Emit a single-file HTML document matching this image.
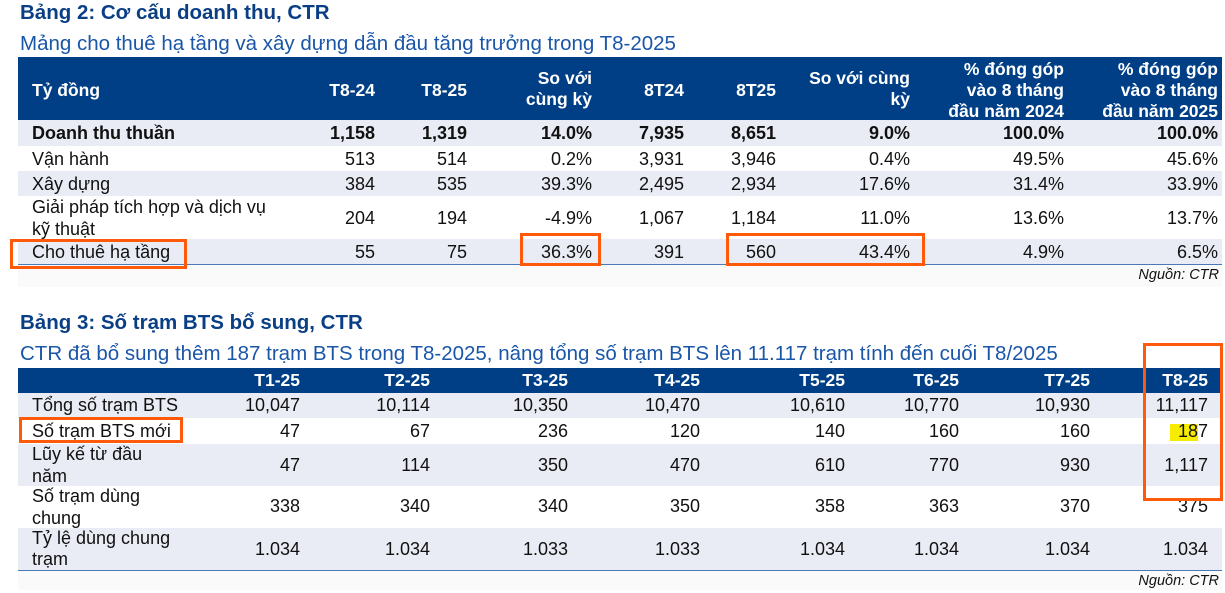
<!DOCTYPE html>
<html><head><meta charset="utf-8"><style>
body{margin:0;width:1225px;height:593px;background:#fff;font-family:"Liberation Sans",Arial,sans-serif;position:relative;overflow:hidden}
.a{position:absolute;white-space:nowrap}
.t{font-weight:bold;color:#0a3f86;font-size:20.5px}
.s{color:#1a56a8;font-size:20.5px}
.bg{position:absolute;left:18px;width:1204px}
.hd{background:#003f86}
.bd{background:#e9ecf4}
.h{color:#fff;font-weight:bold;font-size:17.5px;text-align:right;line-height:21px}
.c{font-size:18px;color:#111;text-align:right}
.l{font-size:18px;color:#111}
.ob{position:absolute;border:3.5px solid #ff5a0a;box-sizing:border-box}
.src{font-style:italic;font-size:14.5px;color:#111}
</style></head><body>
<div class="bg" style="top:57px;height:230px;background:#fafafa"></div>
<div class="bg" style="top:368px;height:222px;background:#fafafa"></div>
<div class="a t" style="left:20px;top:1px">Bảng 2: Cơ cấu doanh thu, CTR</div>
<div class="a s" style="left:20px;top:32px">Mảng cho thuê hạ tầng và xây dựng dẫn đầu tăng trưởng trong T8-2025</div>
<div class="bg hd" style="top:57px;height:63px"></div>
<div class="bg bd" style="top:120px;height:26px"></div>
<div class="bg" style="top:146px;height:25px;background:#fff"></div>
<div class="bg bd" style="top:171px;height:25px"></div>
<div class="bg" style="top:196px;height:43px;background:#fff"></div>
<div class="bg bd" style="top:239px;height:25px"></div>
<div class="bg" style="top:264px;height:1px;background:#4a78b8"></div>
<div class="a h" style="left:32px;top:80px;text-align:left">Tỷ đồng</div>
<div class="a h" style="right:850px;top:80px">T8-24</div>
<div class="a h" style="right:758px;top:80px">T8-25</div>
<div class="a h" style="right:633px;top:68px">So với<br>cùng kỳ</div>
<div class="a h" style="right:541px;top:80px">8T24</div>
<div class="a h" style="right:449px;top:80px">8T25</div>
<div class="a h" style="right:315px;top:68px">So với cùng<br>kỳ</div>
<div class="a h" style="right:161px;top:59px">% đóng góp<br>vào 8 tháng<br>đầu năm 2024</div>
<div class="a h" style="right:7px;top:59px">% đóng góp<br>vào 8 tháng<br>đầu năm 2025</div>
<div class="a l" style="left:32px;top:123px;font-weight:bold">Doanh thu thuần</div>
<div class="a c" style="right:850px;top:123px;font-weight:bold">1,158</div>
<div class="a c" style="right:758px;top:123px;font-weight:bold">1,319</div>
<div class="a c" style="right:633px;top:123px;font-weight:bold">14.0%</div>
<div class="a c" style="right:541px;top:123px;font-weight:bold">7,935</div>
<div class="a c" style="right:449px;top:123px;font-weight:bold">8,651</div>
<div class="a c" style="right:315px;top:123px;font-weight:bold">9.0%</div>
<div class="a c" style="right:161px;top:123px;font-weight:bold">100.0%</div>
<div class="a c" style="right:7px;top:123px;font-weight:bold">100.0%</div>
<div class="a l" style="left:32px;top:149px">Vận hành</div>
<div class="a c" style="right:850px;top:149px">513</div><div class="a c" style="right:758px;top:149px">514</div><div class="a c" style="right:633px;top:149px">0.2%</div><div class="a c" style="right:541px;top:149px">3,931</div><div class="a c" style="right:449px;top:149px">3,946</div><div class="a c" style="right:315px;top:149px">0.4%</div><div class="a c" style="right:161px;top:149px">49.5%</div><div class="a c" style="right:7px;top:149px">45.6%</div>
<div class="a l" style="left:32px;top:174px">Xây dựng</div>
<div class="a c" style="right:850px;top:174px">384</div><div class="a c" style="right:758px;top:174px">535</div><div class="a c" style="right:633px;top:174px">39.3%</div><div class="a c" style="right:541px;top:174px">2,495</div><div class="a c" style="right:449px;top:174px">2,934</div><div class="a c" style="right:315px;top:174px">17.6%</div><div class="a c" style="right:161px;top:174px">31.4%</div><div class="a c" style="right:7px;top:174px">33.9%</div>
<div class="a l" style="left:32px;top:196px;line-height:22px">Giải pháp tích hợp và dịch vụ<br>kỹ thuật</div>
<div class="a c" style="right:850px;top:208px">204</div><div class="a c" style="right:758px;top:208px">194</div><div class="a c" style="right:633px;top:208px">-4.9%</div><div class="a c" style="right:541px;top:208px">1,067</div><div class="a c" style="right:449px;top:208px">1,184</div><div class="a c" style="right:315px;top:208px">11.0%</div><div class="a c" style="right:161px;top:208px">13.6%</div><div class="a c" style="right:7px;top:208px">13.7%</div>
<div class="a l" style="left:32px;top:242px">Cho thuê hạ tầng</div>
<div class="a c" style="right:850px;top:242px">55</div><div class="a c" style="right:758px;top:242px">75</div><div class="a c" style="right:633px;top:242px">36.3%</div><div class="a c" style="right:541px;top:242px">391</div><div class="a c" style="right:449px;top:242px">560</div><div class="a c" style="right:315px;top:242px">43.4%</div><div class="a c" style="right:161px;top:242px">4.9%</div><div class="a c" style="right:7px;top:242px">6.5%</div>
<div class="a src" style="right:6px;top:267px">Nguồn: CTR</div>
<div class="ob" style="left:10px;top:239px;width:177px;height:30px"></div>
<div class="ob" style="left:520px;top:233px;width:81px;height:33px"></div>
<div class="ob" style="left:726px;top:233px;width:199px;height:33px"></div>

<div class="a t" style="left:20px;top:311px">Bảng 3: Số trạm BTS bổ sung, CTR</div>
<div class="a s" style="left:20px;top:342px">CTR đã bổ sung thêm 187 trạm BTS trong T8-2025, nâng tổng số trạm BTS lên 11.117 trạm tính đến cuối T8/2025</div>
<div class="bg hd" style="top:368px;height:25px"></div>
<div class="bg bd" style="top:393px;height:25px"></div>
<div class="bg" style="top:418px;height:26px;background:#fff"></div>
<div class="bg bd" style="top:444px;height:42px"></div>
<div class="bg" style="top:486px;height:42px;background:#fff"></div>
<div class="bg bd" style="top:528px;height:42px"></div>
<div class="bg" style="top:570px;height:1px;background:#4a78b8"></div>
<div class="a h" style="right:925px;top:370px">T1-25</div><div class="a h" style="right:795px;top:370px">T2-25</div><div class="a h" style="right:657px;top:370px">T3-25</div><div class="a h" style="right:525px;top:370px">T4-25</div><div class="a h" style="right:380px;top:370px">T5-25</div><div class="a h" style="right:266px;top:370px">T6-25</div><div class="a h" style="right:135px;top:370px">T7-25</div><div class="a h" style="right:17px;top:370px">T8-25</div>
<div class="a" style="left:1170px;top:424px;width:28px;height:17px;background:#f7ec00"></div>
<div class="a l" style="left:32px;top:395px">Tổng số trạm BTS</div>
<div class="a c" style="right:925px;top:395px">10,047</div><div class="a c" style="right:795px;top:395px">10,114</div><div class="a c" style="right:657px;top:395px">10,350</div><div class="a c" style="right:525px;top:395px">10,470</div><div class="a c" style="right:380px;top:395px">10,610</div><div class="a c" style="right:266px;top:395px">10,770</div><div class="a c" style="right:135px;top:395px">10,930</div><div class="a c" style="right:17px;top:395px">11,117</div>
<div class="a l" style="left:32px;top:421px">Số trạm BTS mới</div>
<div class="a c" style="right:925px;top:421px">47</div><div class="a c" style="right:795px;top:421px">67</div><div class="a c" style="right:657px;top:421px">236</div><div class="a c" style="right:525px;top:421px">120</div><div class="a c" style="right:380px;top:421px">140</div><div class="a c" style="right:266px;top:421px">160</div><div class="a c" style="right:135px;top:421px">160</div><div class="a c" style="right:17px;top:421px">187</div>
<div class="a l" style="left:32px;top:443px;line-height:22px">Lũy kế từ đầu<br>năm</div>
<div class="a c" style="right:925px;top:455px">47</div><div class="a c" style="right:795px;top:455px">114</div><div class="a c" style="right:657px;top:455px">350</div><div class="a c" style="right:525px;top:455px">470</div><div class="a c" style="right:380px;top:455px">610</div><div class="a c" style="right:266px;top:455px">770</div><div class="a c" style="right:135px;top:455px">930</div><div class="a c" style="right:17px;top:455px">1,117</div>
<div class="a l" style="left:32px;top:485px;line-height:22px">Số trạm dùng<br>chung</div>
<div class="a c" style="right:925px;top:496px">338</div><div class="a c" style="right:795px;top:496px">340</div><div class="a c" style="right:657px;top:496px">340</div><div class="a c" style="right:525px;top:496px">350</div><div class="a c" style="right:380px;top:496px">358</div><div class="a c" style="right:266px;top:496px">363</div><div class="a c" style="right:135px;top:496px">370</div><div class="a c" style="right:17px;top:496px">375</div>
<div class="a l" style="left:32px;top:528px;line-height:21px">Tỷ lệ dùng chung<br>trạm</div>
<div class="a c" style="right:925px;top:539px">1.034</div><div class="a c" style="right:795px;top:539px">1.034</div><div class="a c" style="right:657px;top:539px">1.033</div><div class="a c" style="right:525px;top:539px">1.033</div><div class="a c" style="right:380px;top:539px">1.034</div><div class="a c" style="right:266px;top:539px">1.034</div><div class="a c" style="right:135px;top:539px">1.034</div><div class="a c" style="right:17px;top:539px">1.034</div>
<div class="a src" style="right:6px;top:573px">Nguồn: CTR</div>
<div class="ob" style="left:19px;top:417px;width:164px;height:26px"></div>
<div class="ob" style="left:1143px;top:343px;width:80px;height:158px"></div>
</body></html>
